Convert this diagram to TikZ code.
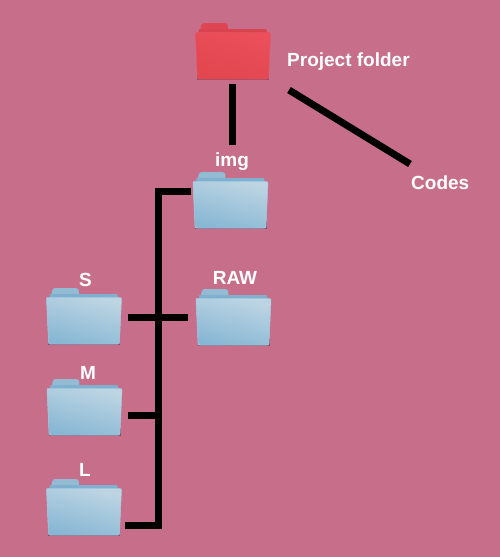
\documentclass[tikz,border=0pt]{standalone}
\usepackage{fontspec}
\setmainfont{Liberation Sans}
\definecolor{bgc}{HTML}{C76E8B}
\definecolor{shadowc}{HTML}{84506F}
\definecolor{bluetab}{HTML}{93BCD4}
\definecolor{blueback}{HTML}{7FB0CE}
\definecolor{bluetop}{HTML}{BDD5E3}
\definecolor{bluebot}{HTML}{88B7D4}
\definecolor{blueedge}{HTML}{A5CCE2}
\definecolor{redtab}{HTML}{DF4553}
\definecolor{redback}{HTML}{D9434F}
\definecolor{redtop}{HTML}{EA4F5A}
\definecolor{redbot}{HTML}{E2464F}
\definecolor{rededge}{HTML}{E65560}
\newcommand{\folderart}[5]{%
  \fill[shadowc] (2,50) -- (74,50) -- (74,57) -- (2,57) -- cycle;
  \fill[#1] (5,10) -- (6,3) .. controls (6.5,0.5) and (8,0) .. (10,0) -- (30,0) .. controls (32,0) and (33,1) .. (33,6) -- (33,10) -- cycle;
  \fill[#2] (3,12) -- (4,6) -- (71,6) -- (73,12) -- cycle;
  \shade[top color=#3,bottom color=#4,shading angle=-15,draw=#5,line width=0.5pt]
    (1,9.5) -- (74.5,9.5) .. controls (75.3,9.5) and (75.6,10) .. (75.5,11) -- (73.5,54) .. controls (73.4,55.6) and (73,56) .. (72,56) -- (4,56) .. controls (3,56) and (2.6,55.6) .. (2.5,54) -- (0.5,11) .. controls (0.4,10) and (0.5,9.5) .. (1,9.5) -- cycle;
}
\tikzset{
  wire/.style={line width=7pt,black,line cap=butt,line join=miter},
  lbl/.style={text=white,font=\bfseries\fontsize{19}{22}\selectfont,inner sep=0pt,anchor=base},
  lblw/.style={lbl,anchor=base west},
  pics/bluef/.style={code={\folderart{bluetab}{blueback}{bluetop}{bluebot}{blueedge}}},
  pics/redf/.style={code={\folderart{redtab}{redback}{redtop}{redbot}{rededge}}},
}
\begin{document}
\begin{tikzpicture}[x=1pt,y=-1pt]
\useasboundingbox (0,0) rectangle (500,557);
\fill[bgc] (0,0) rectangle (500,557);
\pic at (195,23) {redf};
\pic at (192.5,172) {bluef};
\pic at (195.5,289) {bluef};
\pic at (46,288) {bluef};
\pic at (46.5,379) {bluef};
\pic at (46,479) {bluef};
\node[lblw] (proj) at (287,66) {Project folder};
\node[lblw] (codes) at (411,189) {Codes};
\node[lbl] (img) at (232,166) {img};
\node[lbl] (raw) at (235,284) {RAW};
\node[lbl] (s) at (85.5,286) {S};
\node[lbl] (m) at (88,379) {M};
\node[lbl] (l) at (85,476) {L};
\coordinate (redb) at (232.5,84);
\coordinate (imgt) at (232.5,145);
\coordinate (reds) at (289,90);
\coordinate (codest) at (410,164);
\coordinate (imgl) at (190.5,191);
\coordinate (corner) at (158.5,191);
\coordinate (cornerb) at (158.5,525.5);
\coordinate (lr) at (125,525.5);
\coordinate (sr) at (128,317.5);
\coordinate (rawl) at (188,317.5);
\coordinate (mr) at (128,415.5);
\coordinate (mj) at (158.5,415.5);
\draw[wire] (redb) -- (imgt);
\draw[wire] (reds) -- (codest);
\draw[wire] (imgl) -- (corner) -- (cornerb) -- (lr);
\draw[wire] (sr) -- (rawl);
\draw[wire] (mr) -- (mj);
\end{tikzpicture}
\end{document}
